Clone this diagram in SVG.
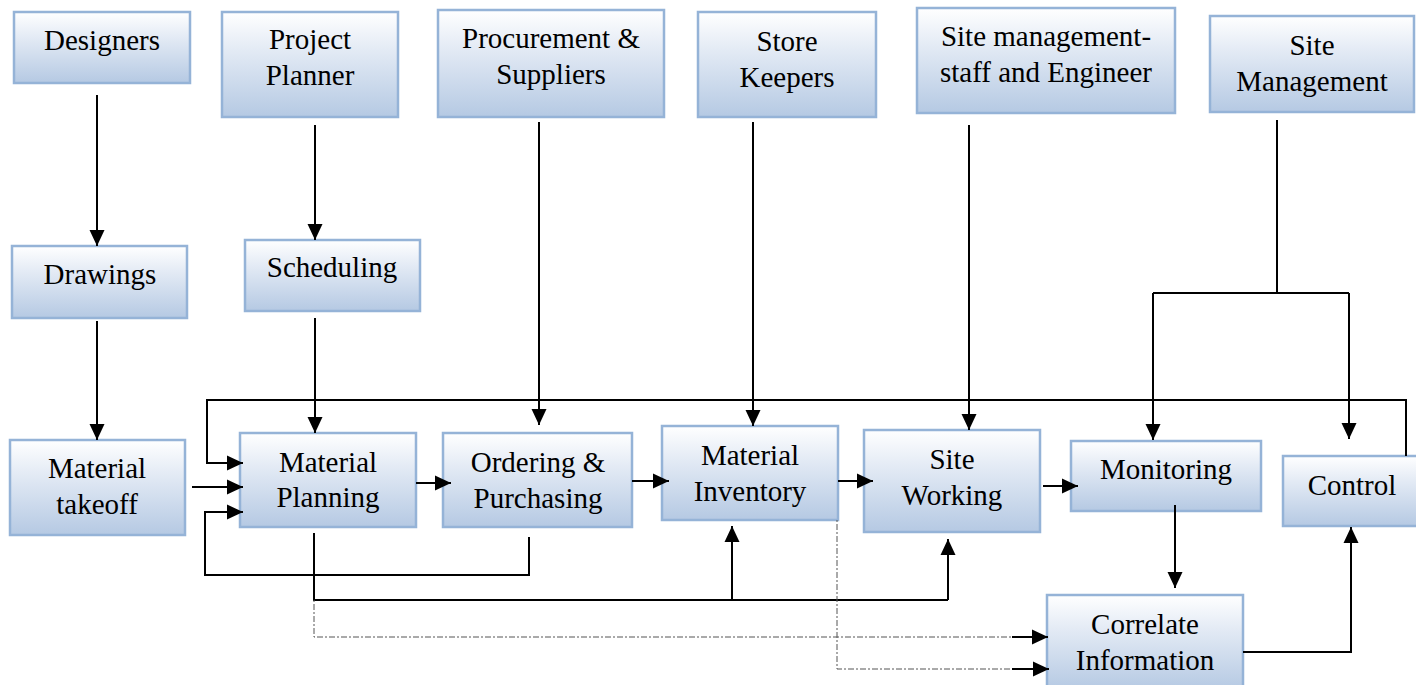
<svg xmlns="http://www.w3.org/2000/svg" width="1416" height="685" viewBox="0 0 1416 685">
  <defs>
    <linearGradient id="boxFill" x1="0" y1="0" x2="0" y2="1">
      <stop offset="0" stop-color="#ffffff"/>
      <stop offset="0.35" stop-color="#e4ebf5"/>
      <stop offset="1" stop-color="#b5c9e3"/>
    </linearGradient>
    <marker id="arrow" markerUnits="userSpaceOnUse" markerWidth="16" markerHeight="16" refX="16" refY="8" orient="auto">
      <path d="M0,0.5 L16,8 L0,15.5 z" fill="#000"/>
    </marker>
    <style>
      .box { fill: url(#boxFill); stroke: #95b3d7; stroke-width: 2.5; }
      .lbl { font-family: "Liberation Serif", "Times New Roman", serif; font-size: 29px; fill: #000; text-anchor: middle; }
      .wire { fill: none; stroke: #000; stroke-width: 2; }
      .dot { fill: none; stroke: #555; stroke-width: 1; stroke-dasharray: 2 2 6 2; }
    </style>
  </defs>
  <rect width="1416" height="685" fill="#ffffff"/>

  <!-- top row: roles -->
  <g id="designers">
    <rect class="box" x="14" y="12" width="176" height="71"/>
    <text class="lbl" x="102" y="50">Designers</text>
  </g>
  <g id="project-planner">
    <rect class="box" x="222" y="12" width="176" height="105"/>
    <text class="lbl" x="310" y="49">Project</text>
    <text class="lbl" x="310" y="85">Planner</text>
  </g>
  <g id="procurement">
    <rect class="box" x="438" y="10" width="226" height="107"/>
    <text class="lbl" x="551" y="48">Procurement &amp;</text>
    <text class="lbl" x="551" y="84">Suppliers</text>
  </g>
  <g id="store-keepers">
    <rect class="box" x="698" y="12" width="178" height="105"/>
    <text class="lbl" x="787" y="51">Store</text>
    <text class="lbl" x="787" y="87">Keepers</text>
  </g>
  <g id="site-staff">
    <rect class="box" x="917" y="8" width="258" height="105"/>
    <text class="lbl" x="1046" y="46">Site management-</text>
    <text class="lbl" x="1046" y="82">staff and Engineer</text>
  </g>
  <g id="site-management">
    <rect class="box" x="1210" y="16" width="204" height="96"/>
    <text class="lbl" x="1312" y="55">Site</text>
    <text class="lbl" x="1312" y="91">Management</text>
  </g>

  <!-- second row -->
  <g id="drawings">
    <rect class="box" x="12" y="246" width="175" height="72"/>
    <text class="lbl" x="100" y="284">Drawings</text>
  </g>
  <g id="scheduling">
    <rect class="box" x="245" y="240" width="175" height="71"/>
    <text class="lbl" x="332" y="277">Scheduling</text>
  </g>

  <!-- process row -->
  <g id="material-takeoff">
    <rect class="box" x="10" y="440" width="175" height="95"/>
    <text class="lbl" x="97" y="478">Material</text>
    <text class="lbl" x="97" y="514">takeoff</text>
  </g>
  <g id="material-planning">
    <rect class="box" x="240" y="433" width="176" height="94"/>
    <text class="lbl" x="328" y="472">Material</text>
    <text class="lbl" x="328" y="507">Planning</text>
  </g>
  <g id="ordering">
    <rect class="box" x="443" y="433" width="189" height="94"/>
    <text class="lbl" x="538" y="472">Ordering &amp;</text>
    <text class="lbl" x="538" y="508">Purchasing</text>
  </g>
  <g id="material-inventory">
    <rect class="box" x="662" y="426" width="176" height="94"/>
    <text class="lbl" x="750" y="465">Material</text>
    <text class="lbl" x="750" y="501">Inventory</text>
  </g>
  <g id="site-working">
    <rect class="box" x="864" y="430" width="176" height="102"/>
    <text class="lbl" x="952" y="469">Site</text>
    <text class="lbl" x="952" y="505">Working</text>
  </g>
  <g id="monitoring">
    <rect class="box" x="1071" y="441" width="190" height="70"/>
    <text class="lbl" x="1166" y="479">Monitoring</text>
  </g>
  <g id="control">
    <rect class="box" x="1283" y="456" width="136" height="70"/>
    <text class="lbl" x="1352" y="495">Control</text>
  </g>
  <g id="correlate">
    <rect class="box" x="1047" y="595" width="196" height="95"/>
    <text class="lbl" x="1145" y="634">Correlate</text>
    <text class="lbl" x="1145" y="670">Information</text>
  </g>

  <!-- connectors -->
  <g id="connectors">
    <!-- vertical feeds from roles -->
    <line class="wire" x1="97" y1="95" x2="97" y2="246" marker-end="url(#arrow)"/>
    <line class="wire" x1="97" y1="321" x2="97" y2="440" marker-end="url(#arrow)"/>
    <line class="wire" x1="315" y1="125" x2="315" y2="240" marker-end="url(#arrow)"/>
    <line class="wire" x1="315" y1="318" x2="315" y2="433" marker-end="url(#arrow)"/>
    <line class="wire" x1="539" y1="122" x2="539" y2="425" marker-end="url(#arrow)"/>
    <line class="wire" x1="753" y1="122" x2="753" y2="426" marker-end="url(#arrow)"/>
    <line class="wire" x1="969" y1="125" x2="969" y2="430" marker-end="url(#arrow)"/>

    <!-- site management splits to monitoring and control -->
    <polyline class="wire" points="1277,120 1277,293"/>
    <polyline class="wire" points="1153,293 1349,293"/>
    <line class="wire" x1="1153" y1="293" x2="1153" y2="440" marker-end="url(#arrow)"/>
    <line class="wire" x1="1349" y1="293" x2="1349" y2="439" marker-end="url(#arrow)"/>

    <!-- control feedback to material planning -->
    <polyline class="wire" points="1406,456 1406,400 207,400 207,463 243,463" marker-end="url(#arrow)"/>

    <!-- takeoff into planning -->
    <line class="wire" x1="192" y1="487" x2="243" y2="487" marker-end="url(#arrow)"/>

    <!-- ordering feedback to planning -->
    <polyline class="wire" points="529,537 529,575 205,575 205,512 243,512" marker-end="url(#arrow)"/>

    <!-- main flow -->
    <line class="wire" x1="416" y1="483" x2="451" y2="483" marker-end="url(#arrow)"/>
    <line class="wire" x1="632" y1="481" x2="669" y2="481" marker-end="url(#arrow)"/>
    <line class="wire" x1="838" y1="481" x2="873" y2="481" marker-end="url(#arrow)"/>
    <line class="wire" x1="1043" y1="486" x2="1078" y2="486" marker-end="url(#arrow)"/>

    <!-- planning to inventory and site working -->
    <polyline class="wire" points="314,533 314,600 948,600"/>
    <line class="wire" x1="732" y1="600" x2="732" y2="526" marker-end="url(#arrow)"/>
    <line class="wire" x1="948" y1="600" x2="948" y2="539" marker-end="url(#arrow)"/>

    <!-- information paths to correlation -->
    <polyline class="dot" points="314,600 314,637 1012,637"/>
    <line class="wire" x1="1012" y1="637" x2="1048" y2="637" marker-end="url(#arrow)"/>
    <polyline class="dot" points="837,520 837,669 1012,669"/>
    <line class="wire" x1="1012" y1="669" x2="1049" y2="669" marker-end="url(#arrow)"/>

    <!-- monitoring to correlate, correlate to control -->
    <line class="wire" x1="1175" y1="505" x2="1175" y2="588" marker-end="url(#arrow)"/>
    <polyline class="wire" points="1243,652 1351,652 1351,527" marker-end="url(#arrow)"/>
  </g>
</svg>
